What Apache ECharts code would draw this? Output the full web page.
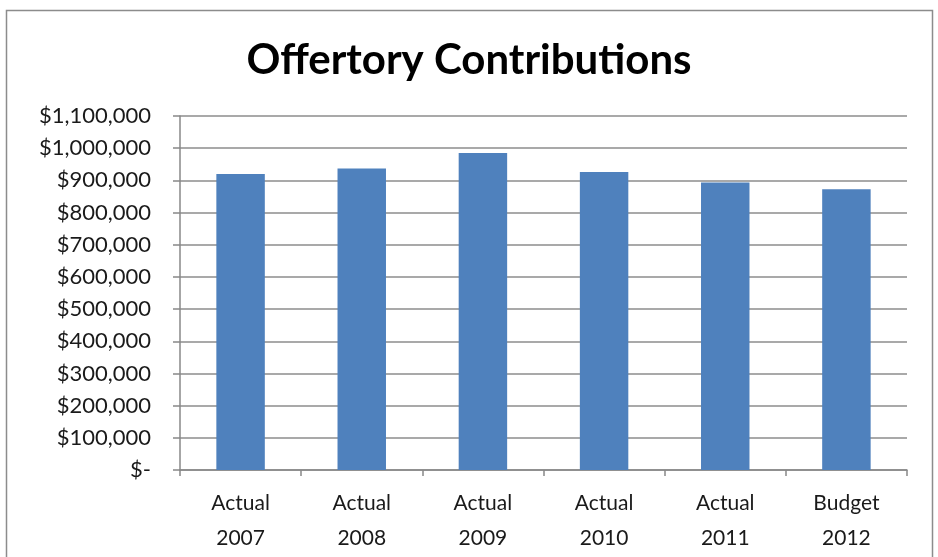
<!DOCTYPE html>
<html>
<head>
<meta charset="utf-8">
<script src="https://cdn.jsdelivr.net/npm/echarts@6/dist/echarts.min.js"></script>
<style>
  html, body { margin: 0; padding: 0; background: #fff; }
  #chart { width: 938px; height: 557px; }
</style>
</head>
<body>
<div id="chart"></div>
<script>
const categories = ["Actual\n2007", "Actual\n2008", "Actual\n2009", "Actual\n2010", "Actual\n2011", "Budget\n2012"];
const contributions = [920000, 937000, 985000, 926000, 893000, 872000];

const fontFamily = "Lato, 'Open Sans', sans-serif";

function money(v) {
  if (v === 0) {
    return "$-";
  }
  return "$" + String(v).replace(/\B(?=(\d{3})+(?!\d))/g, ",");
}

const chart = echarts.init(document.getElementById("chart"));
chart.setOption({
  animation: false,
  title: {
    text: "Offertory Contributions",
    left: "center",
    top: 34,
    textStyle: {
      fontFamily,
      fontSize: 42,
      fontWeight: "bold",
      color: "#000",
    },
  },
  graphic: [
    {
      type: "rect",
      shape: { x: 6.5, y: 10.5, width: 926, height: 580 },
      style: { fill: "none", stroke: "#8c8c8c", lineWidth: 1.5 },
      silent: true,
    },
  ],
  grid: {
    left: 180,
    right: 31,
    top: 116,
    bottom: 87,
  },
  xAxis: {
    type: "category",
    data: categories,
    axisLine: { lineStyle: { color: "#888", width: 1.5 } },
    axisTick: { show: true, length: 6, lineStyle: { color: "#888", width: 1.5 } },
    axisLabel: {
      margin: 16,
      fontFamily,
      fontSize: 21,
      lineHeight: 35,
      color: "#1a1a1a",
    },
  },
  yAxis: {
    type: "value",
    min: 0,
    max: 1100000,
    interval: 100000,
    axisLine: { show: true, lineStyle: { color: "#888", width: 1.5 } },
    axisTick: { show: true, length: 7, lineStyle: { color: "#888", width: 1.5 } },
    splitLine: { lineStyle: { color: "#8c8c8c", width: 1.5 } },
    axisLabel: {
      margin: 29,
      fontFamily,
      fontSize: 22,
      color: "#1a1a1a",
      formatter: money,
    },
  },
  series: [
    {
      type: "bar",
      data: contributions,
      barWidth: "40%",
      itemStyle: { color: "#4f81bd" },
    },
  ],
});
</script>
</body>
</html>
